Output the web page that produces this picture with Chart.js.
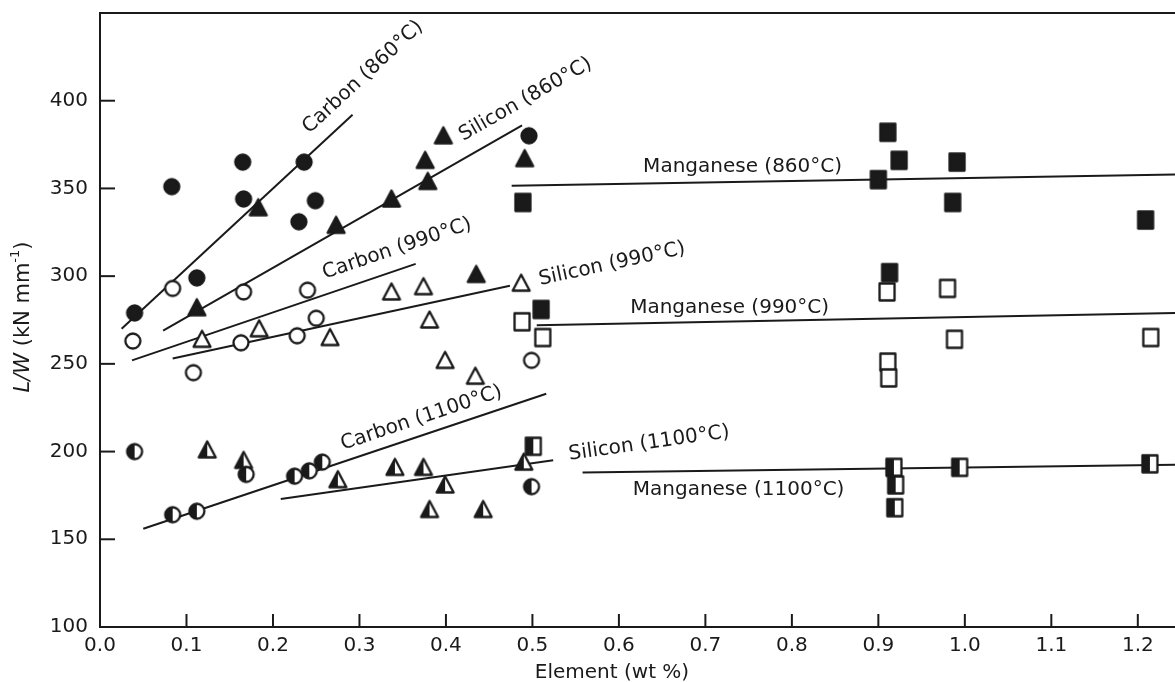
<!DOCTYPE html>
<html>
<head>
<meta charset="utf-8">
<script src="https://cdn.jsdelivr.net/npm/chart.js@4.4.1/dist/chart.umd.min.js"></script>
<style>
  html, body { margin: 0; padding: 0; background: #fff; }
  #wrap { width: 1175px; height: 682px; }
</style>
</head>
<body>
<div id="wrap"><canvas id="lwChart" width="1175" height="682"></canvas></div>
<script>
"use strict";

// axis ticks
const xTickValues = [0.0, 0.1, 0.2, 0.3, 0.4, 0.5, 0.6, 0.7, 0.8, 0.9, 1.0, 1.1, 1.2];
const yTickValues = [100, 150, 200, 250, 300, 350, 400];

// carbon
const carbon860X = [0.040, 0.083, 0.112, 0.165, 0.166, 0.236, 0.230, 0.249, 0.496];
const carbon860Y = [279, 351, 299, 365, 344, 365, 331, 343, 380];
const carbon990X = [0.038, 0.084, 0.108, 0.163, 0.166, 0.228, 0.240, 0.250, 0.499];
const carbon990Y = [263, 293, 245, 262, 291, 266, 292, 276, 252];
const carbon1100X = [0.040, 0.084, 0.112, 0.169, 0.225, 0.242, 0.257, 0.499];
const carbon1100Y = [200, 164, 166, 187, 186, 189, 194, 180];

// silicon
const silicon860X = [0.112, 0.183, 0.273, 0.337, 0.376, 0.379, 0.397, 0.435, 0.491];
const silicon860Y = [282, 339, 329, 344, 366, 354, 380, 301, 367];
const silicon990X = [0.118, 0.184, 0.266, 0.337, 0.374, 0.381, 0.399, 0.434, 0.487];
const silicon990Y = [264, 270, 265, 291, 294, 275, 252, 243, 296];
const silicon1100X = [0.124, 0.166, 0.275, 0.341, 0.374, 0.381, 0.399, 0.443, 0.490];
const silicon1100Y = [201, 195, 184, 191, 191, 167, 181, 167, 194];

// manganese
const mn860X = [0.489, 0.510, 0.900, 0.911, 0.913, 0.924, 0.986, 0.991, 1.209];
const mn860Y = [342, 281, 355, 382, 302, 366, 342, 365, 332];
const mn990X = [0.488, 0.512, 0.910, 0.911, 0.912, 0.980, 0.988, 1.215];
const mn990Y = [274, 265, 291, 251, 242, 293, 264, 265];
const mn1100X = [0.501, 0.918, 0.920, 0.919, 0.994, 1.214];
const mn1100Y = [203, 191, 181, 168, 191, 193];

// fitted lines, as drawn (start, end)
const carbon860LineX = [0.025, 0.292];
const carbon860LineY = [270, 392];
const carbon990LineX = [0.037, 0.365];
const carbon990LineY = [252, 307];
const carbon1100LineX = [0.050, 0.516];
const carbon1100LineY = [156, 233];
const silicon860LineX = [0.073, 0.488];
const silicon860LineY = [269, 386];
const silicon990LineX = [0.084, 0.474];
const silicon990LineY = [253, 294.5];
const silicon1100LineX = [0.209, 0.524];
const silicon1100LineY = [173, 195];
const mn860LineX = [0.476, 1.243];
const mn860LineY = [351.5, 358];
const mn990LineX = [0.505, 1.243];
const mn990LineY = [272, 279];
const mn1100LineX = [0.558, 1.243];
const mn1100LineY = [188, 192.5];

const ink = "#1a1a1a";
const fontFamily = "'DejaVu Sans', sans-serif";

function makeMarker(shape, fill) {
  const c = document.createElement("canvas");
  c.width = 22;
  c.height = 22;
  const g = c.getContext("2d");
  const cx = 11, cy = 11;
  g.beginPath();
  if (shape === "circle") {
    g.arc(cx, cy, 7.5, 0, Math.PI * 2);
  } else if (shape === "triangle") {
    g.moveTo(cx, cy - 8.5);
    g.lineTo(cx + 8.5, cy + 7.5);
    g.lineTo(cx - 8.5, cy + 7.5);
    g.closePath();
  } else {
    g.rect(cx - 7.5, cy - 8.5, 15, 17);
  }
  g.fillStyle = fill === "full" ? ink : "#fff";
  g.fill();
  if (fill === "half") {
    g.save();
    g.clip();
    g.fillStyle = ink;
    g.fillRect(0, 0, cx, c.height);
    g.restore();
  }
  g.lineWidth = 2.3;
  g.lineJoin = "round";
  g.strokeStyle = ink;
  g.stroke();
  return c;
}

function toPoints(xs, ys) {
  return xs.map((x, i) => ({ x: x, y: ys[i] }));
}

function pointSet(xs, ys, marker) {
  return {
    data: toPoints(xs, ys),
    pointStyle: marker,
    pointRadius: 8,
    showLine: false,
    order: 1,
  };
}

function lineSet(xs, ys) {
  return {
    data: toPoints(xs, ys),
    showLine: true,
    borderColor: ink,
    borderWidth: 2,
    pointRadius: 0,
    fill: false,
    order: 2,
  };
}

const datasets = [
  lineSet(carbon860LineX, carbon860LineY),
  lineSet(carbon990LineX, carbon990LineY),
  lineSet(carbon1100LineX, carbon1100LineY),
  lineSet(silicon860LineX, silicon860LineY),
  lineSet(silicon990LineX, silicon990LineY),
  lineSet(silicon1100LineX, silicon1100LineY),
  lineSet(mn860LineX, mn860LineY),
  lineSet(mn990LineX, mn990LineY),
  lineSet(mn1100LineX, mn1100LineY),
  pointSet(carbon860X, carbon860Y, makeMarker("circle", "full")),
  pointSet(carbon990X, carbon990Y, makeMarker("circle", "none")),
  pointSet(carbon1100X, carbon1100Y, makeMarker("circle", "half")),
  pointSet(silicon860X, silicon860Y, makeMarker("triangle", "full")),
  pointSet(silicon990X, silicon990Y, makeMarker("triangle", "none")),
  pointSet(silicon1100X, silicon1100Y, makeMarker("triangle", "half")),
  pointSet(mn860X, mn860Y, makeMarker("square", "full")),
  pointSet(mn990X, mn990Y, makeMarker("square", "none")),
  pointSet(mn1100X, mn1100Y, makeMarker("square", "half")),
];

// line labels: anchor is the left end of the text baseline
const curveLabels = [
  { text: "Carbon (860°C)", at: [0.242, 381], lineX: carbon860LineX, lineY: carbon860LineY },
  { text: "Silicon (860°C)", at: [0.420, 377], lineX: silicon860LineX, lineY: silicon860LineY },
  { text: "Carbon (990°C)", at: [0.260, 298.5], lineX: carbon990LineX, lineY: carbon990LineY },
  { text: "Silicon (990°C)", at: [0.509, 295], lineX: silicon990LineX, lineY: silicon990LineY },
  { text: "Carbon (1100°C)", at: [0.281, 201], lineX: carbon1100LineX, lineY: carbon1100LineY },
  { text: "Silicon (1100°C)", at: [0.543, 195.3], lineX: silicon1100LineX, lineY: silicon1100LineY },
  { text: "Manganese (860°C)", at: [0.628, 359.6] },
  { text: "Manganese (990°C)", at: [0.613, 279] },
  { text: "Manganese (1100°C)", at: [0.616, 175.3] },
];

const decorations = {
  id: "decorations",
  afterDatasetsDraw(chart) {
    const { ctx, chartArea } = chart;
    const xs = chart.scales.x;
    const ys = chart.scales.y;
    ctx.save();
    ctx.strokeStyle = ink;
    ctx.fillStyle = ink;

    // top frame
    ctx.lineWidth = 2;
    ctx.beginPath();
    ctx.moveTo(chartArea.left, chartArea.top);
    ctx.lineTo(chartArea.right, chartArea.top);
    ctx.stroke();

    // inward tick marks
    ctx.lineWidth = 2;
    xTickValues.forEach((v) => {
      if (v === 0) return;
      const px = xs.getPixelForValue(v);
      ctx.beginPath();
      ctx.moveTo(px, chartArea.bottom);
      ctx.lineTo(px, chartArea.bottom - 13);
      ctx.stroke();
    });
    yTickValues.forEach((v) => {
      if (v === 100) return;
      const py = ys.getPixelForValue(v);
      ctx.beginPath();
      ctx.moveTo(chartArea.left, py);
      ctx.lineTo(chartArea.left + 15, py);
      ctx.stroke();
    });

    // curve labels
    ctx.font = "20px " + fontFamily;
    ctx.textAlign = "left";
    ctx.textBaseline = "alphabetic";
    curveLabels.forEach((lab) => {
      let angle = 0;
      if (lab.lineX) {
        const x0 = xs.getPixelForValue(lab.lineX[0]);
        const x1 = xs.getPixelForValue(lab.lineX[1]);
        const y0 = ys.getPixelForValue(lab.lineY[0]);
        const y1 = ys.getPixelForValue(lab.lineY[1]);
        angle = Math.atan2(y0 - y1, x1 - x0);
      }
      ctx.save();
      ctx.translate(xs.getPixelForValue(lab.at[0]), ys.getPixelForValue(lab.at[1]));
      ctx.rotate(-angle);
      ctx.fillText(lab.text, 0, 0);
      ctx.restore();
    });

    // x axis title
    ctx.font = "20px " + fontFamily;
    ctx.textAlign = "center";
    ctx.fillText("Element (wt %)", 612, 678);

    // y axis title: italic L/W, units with superscript
    const parts = [
      { t: "L/W", f: "italic 21px " + fontFamily, dy: 0 },
      { t: " (kN mm", f: "21px " + fontFamily, dy: 0 },
      { t: "-1", f: "13px " + fontFamily, dy: -10 },
      { t: ")", f: "21px " + fontFamily, dy: 0 },
    ];
    let total = 0;
    parts.forEach((p) => {
      ctx.font = p.f;
      p.w = ctx.measureText(p.t).width;
      total += p.w;
    });
    ctx.save();
    ctx.translate(29, 317);
    ctx.rotate(-Math.PI / 2);
    ctx.textAlign = "left";
    let cur = -total / 2;
    parts.forEach((p) => {
      ctx.font = p.f;
      ctx.fillText(p.t, cur, p.dy);
      cur += p.w;
    });
    ctx.restore();

    ctx.restore();
  },
};

new Chart(document.getElementById("lwChart"), {
  type: "scatter",
  data: { datasets: datasets },
  options: {
    responsive: false,
    devicePixelRatio: 1,
    animation: false,
    events: [],
    layout: { autoPadding: false, padding: { top: 13, right: 0, left: 0, bottom: 0 } },
    plugins: {
      legend: { display: false },
      tooltip: { enabled: false },
    },
    scales: {
      x: {
        type: "linear",
        min: 0,
        max: 1.243,
        grid: { display: false, drawTicks: false },
        border: { display: true, color: ink, width: 2 },
        afterBuildTicks: (scale) => {
          scale.ticks = xTickValues.map((v) => ({ value: v }));
        },
        afterFit: (scale) => {
          scale.height = 55;
          scale.paddingLeft = 0;
          scale.paddingRight = 0;
        },
        ticks: {
          padding: 7,
          color: ink,
          maxRotation: 0,
          autoSkip: false,
          font: { family: fontFamily, size: 20 },
          callback: (v) => Number(v).toFixed(1),
        },
      },
      y: {
        type: "linear",
        min: 100,
        max: 450,
        grid: { display: false, drawTicks: false },
        border: { display: true, color: ink, width: 2 },
        afterBuildTicks: (scale) => {
          scale.ticks = yTickValues.map((v) => ({ value: v }));
        },
        afterFit: (scale) => {
          scale.width = 100;
          scale.paddingTop = 0;
          scale.paddingBottom = 0;
        },
        ticks: {
          padding: 12,
          color: ink,
          autoSkip: false,
          font: { family: fontFamily, size: 20 },
          callback: (v) => String(v),
        },
      },
    },
  },
  plugins: [decorations],
});
</script>
</body>
</html>
